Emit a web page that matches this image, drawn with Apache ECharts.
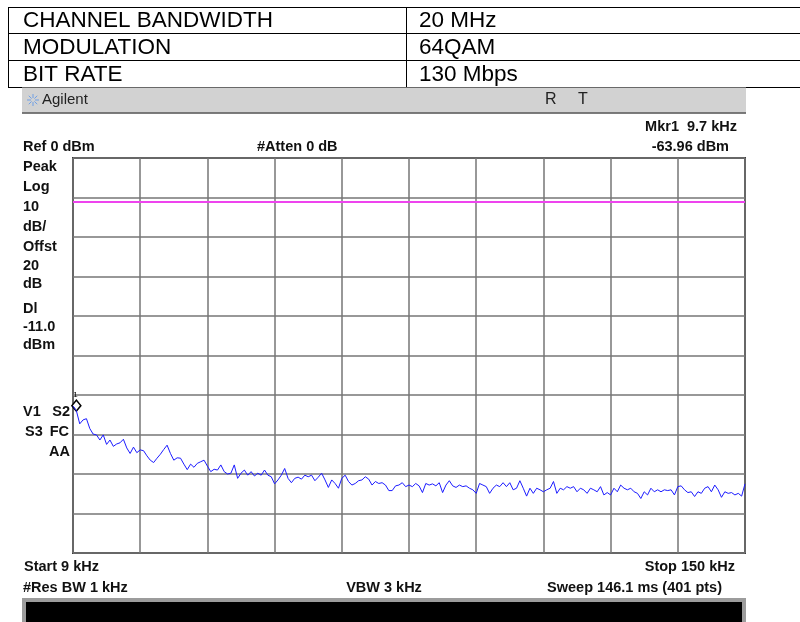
<!DOCTYPE html>
<html>
<head>
<meta charset="utf-8">
<script src="https://cdn.jsdelivr.net/npm/echarts@6/dist/echarts.min.js"></script>
<style>html,body{margin:0;padding:0;background:#fff;}#c{width:800px;height:622px;}</style>
</head>
<body>
<div id="c"></div>
<script>
// ---- data ----
const headerRows = ['CHANNEL BANDWIDTH', 'MODULATION', 'BIT RATE'];
const headerValues = ['20 MHz', '64QAM', '130 Mbps'];
const startFreqKHz = 9;
const stopFreqKHz = 150;
const refLevelDbm = 0;
const attenDb = 0;
const scaleDbPerDiv = 10;
const offsetDb = 20;
const displayLineDbm = -11.0;
const markerFreqKHz = 9.7;
const markerLevelDbm = -63.96;
const markerIndex = 1;
const resBwKHz = 1;
const vbwKHz = 3;
const sweepMs = 146.1;
const sweepPts = 401;
const statusLeft = ['V1', 'S3'];
const statusRight = ['S2', 'FC', 'AA'];
// trace samples (dBm), evenly spaced from start to stop frequency
const traceDbm = [
-62.8,-63.96,-67.3,-66.3,-66.0,-68.5,-69.9,-70.1,-71.4,-70.1,
-72.5,-71.4,-73.0,-72.4,-72.1,-71.2,-73.4,-74.8,-73.2,-74.6,
-73.9,-74.1,-75.4,-76.5,-77.1,-76.0,-75.0,-73.8,-72.7,-74.8,
-76.5,-75.9,-76.0,-77.5,-78.9,-77.5,-78.3,-77.3,-76.9,-76.5,
-78.0,-79.4,-78.8,-79.0,-77.7,-79.4,-80.0,-79.8,-77.7,-81.1,
-79.8,-79.0,-80.3,-79.4,-80.5,-79.8,-80.3,-79.0,-80.3,-80.7,
-82.5,-81.5,-80.3,-78.6,-81.1,-82.2,-81.1,-80.8,-81.3,-80.3,
-80.7,-80.3,-81.7,-80.8,-79.8,-81.5,-83.4,-81.5,-82.4,-83.6,
-81.1,-80.3,-81.9,-82.8,-82.4,-81.7,-81.5,-80.7,-81.3,-82.8,
-81.9,-82.4,-82.2,-82.8,-84.2,-84.2,-83.0,-82.8,-82.2,-83.2,
-82.8,-83.2,-82.4,-83.0,-84.7,-82.4,-82.8,-82.5,-83.0,-82.2,
-84.7,-82.8,-81.7,-83.0,-83.4,-82.8,-83.2,-83.0,-83.6,-84.0,
-84.9,-82.4,-82.8,-83.2,-84.9,-83.6,-82.8,-83.2,-82.2,-83.2,
-82.2,-84.0,-83.6,-81.7,-83.6,-85.6,-83.6,-84.9,-83.6,-84.0,
-84.5,-84.0,-83.6,-81.9,-84.9,-83.6,-84.0,-83.2,-83.6,-83.2,
-84.5,-83.6,-84.0,-84.9,-83.6,-84.0,-84.5,-83.2,-85.3,-84.7,
-85.3,-83.6,-84.5,-82.8,-83.6,-84.0,-83.6,-84.5,-84.9,-86.2,
-84.5,-85.3,-83.6,-84.5,-84.0,-84.5,-84.0,-84.2,-84.0,-85.3,
-83.2,-83.0,-84.0,-84.7,-84.5,-85.7,-84.5,-84.9,-83.6,-83.2,
-84.5,-82.8,-84.0,-85.9,-84.5,-84.9,-84.7,-85.3,-84.9,-85.6,
-82.5
];

// ---- layout ----
const G = { left: 73, top: 158, width: 672, height: 395 };
const BOLD = 'bold 14.5px "Liberation Sans", Arial, sans-serif';
const INK = '#111';

function txt(text, x, y, align, font, fill) {
  return { type: 'text', x: x, y: y, silent: true, z: 10,
    style: { text: text, font: font || BOLD, fill: fill || INK, align: align || 'left', verticalAlign: 'middle' } };
}
function ln(x1, y1, x2, y2, stroke, w) {
  return { type: 'line', silent: true, shape: { x1: x1, y1: y1, x2: x2, y2: y2 }, style: { stroke: stroke, lineWidth: w } };
}

const graphics = [];
// header table
const rowLines = [7.5, 33.5, 60.5, 87.5];
rowLines.forEach(y => graphics.push(ln(8, y, 800, y, '#000', 1)));
graphics.push(ln(8.5, 7.5, 8.5, 87.5, '#000', 1));
graphics.push(ln(406.5, 7.5, 406.5, 87.5, '#000', 1));
const HFONT = '22.5px "Liberation Sans", Arial, sans-serif';
headerRows.forEach((t, i) => {
  const yc = (rowLines[i] + rowLines[i + 1]) / 2 + 0.5;
  graphics.push(txt(t, 23, yc, 'left', HFONT, '#000'));
  graphics.push(txt(headerValues[i], 419, yc, 'left', HFONT, '#000'));
});
// Agilent bar
graphics.push({ type: 'rect', silent: true, shape: { x: 22, y: 87.5, width: 724, height: 25 }, style: { fill: '#d2d2d2' } });
graphics.push(ln(22, 113, 746, 113, '#505050', 1.5));
for (let k = 0; k < 8; k++) {
  const a = k * Math.PI / 4;
  graphics.push(ln(33 + 2 * Math.cos(a), 100 + 2 * Math.sin(a), 33 + 6 * Math.cos(a), 100 + 6 * Math.sin(a), '#6f9fe6', 1));
}
graphics.push(txt('Agilent', 42, 100, 'left', '15px "Liberation Sans", Arial, sans-serif', '#222'));
graphics.push(txt('R', 545, 100, 'left', '16px "Liberation Sans", Arial, sans-serif', '#222'));
graphics.push(txt('T', 578, 100, 'left', '16px "Liberation Sans", Arial, sans-serif', '#222'));

// annotations above plot
graphics.push(txt('Ref ' + refLevelDbm + ' dBm', 23, 147));
graphics.push(txt('#Atten ' + attenDb + ' dB', 257, 147));
graphics.push(txt('Mkr1  ' + markerFreqKHz + ' kHz', 737, 127, 'right'));
graphics.push(txt(markerLevelDbm.toFixed(2) + ' dBm', 729, 147, 'right'));
// left stack
const leftStack = ['Peak', 'Log', String(scaleDbPerDiv), 'dB/', 'Offst', String(offsetDb), 'dB', 'Dl', displayLineDbm.toFixed(1), 'dBm'];
const leftY = [167, 187, 207, 227, 247, 266, 284, 309, 327, 345];
leftStack.forEach((t, i) => graphics.push(txt(t, 23, leftY[i])));
graphics.push(txt(statusLeft[0], 23, 412));
graphics.push(txt(statusRight[0], 70, 412, 'right'));
graphics.push(txt(statusLeft[1], 25, 432));
graphics.push(txt(statusRight[1], 69, 432, 'right'));
graphics.push(txt(statusRight[2], 70, 452, 'right'));
// bottom
graphics.push(txt('Start ' + startFreqKHz + ' kHz', 24, 567));
graphics.push(txt('Stop ' + stopFreqKHz + ' kHz', 735, 567, 'right'));
graphics.push(txt('#Res BW ' + resBwKHz + ' kHz', 23, 588));
graphics.push(txt('VBW ' + vbwKHz + ' kHz', 384, 588, 'center'));
graphics.push(txt('Sweep ' + sweepMs + ' ms (' + sweepPts + ' pts)', 722, 588, 'right'));
graphics.push({ type: 'rect', silent: true, shape: { x: 22, y: 598, width: 724, height: 24 }, style: { fill: '#9c9c9c' } });
graphics.push({ type: 'rect', silent: true, shape: { x: 26, y: 602, width: 716, height: 20 }, style: { fill: '#000' } });

const lastIdx = traceDbm.length - 1;
const seriesData = traceDbm.map((v, i) => [i, v]);

const chart = echarts.init(document.getElementById('c'), null, { renderer: 'canvas' });
chart.setOption({
  animation: false,
  backgroundColor: '#fff',
  grid: { left: G.left, top: G.top, width: G.width, height: G.height, show: true, borderColor: '#3c3c3c', borderWidth: 2 },
  xAxis: {
    type: 'value', min: 0, max: lastIdx, interval: lastIdx / 10,
    axisLine: { show: false }, axisTick: { show: false }, axisLabel: { show: false },
    splitLine: { show: true, lineStyle: { color: '#767676', width: 1.5 } }
  },
  yAxis: {
    type: 'value', min: refLevelDbm - 10 * scaleDbPerDiv, max: refLevelDbm, interval: scaleDbPerDiv,
    axisLine: { show: false }, axisTick: { show: false }, axisLabel: { show: false },
    splitLine: { show: true, lineStyle: { color: '#767676', width: 1.5 } }
  },
  series: [{
    type: 'line', data: seriesData, showSymbol: false, symbol: 'none',
    lineStyle: { color: '#1c1cff', width: 1 }, z: 5,
    markLine: {
      silent: true, symbol: 'none', animation: false,
      label: { show: false },
      lineStyle: { color: '#ee44ee', width: 2, type: 'solid' },
      data: [{ yAxis: displayLineDbm }]
    },
    markPoint: {
      silent: true, animation: false,
      data: [{ coord: [markerIndex, markerLevelDbm], symbol: 'diamond', symbolSize: [9, 11], symbolOffset: [0, -5],
        itemStyle: { color: '#fff', borderColor: '#000', borderWidth: 1.5 },
        label: { show: true, formatter: '1', position: 'top', distance: 1, fontSize: 8, color: '#000', offset: [-1, 0] } }]
    }
  }],
  graphic: graphics
});
</script>
</body>
</html>
